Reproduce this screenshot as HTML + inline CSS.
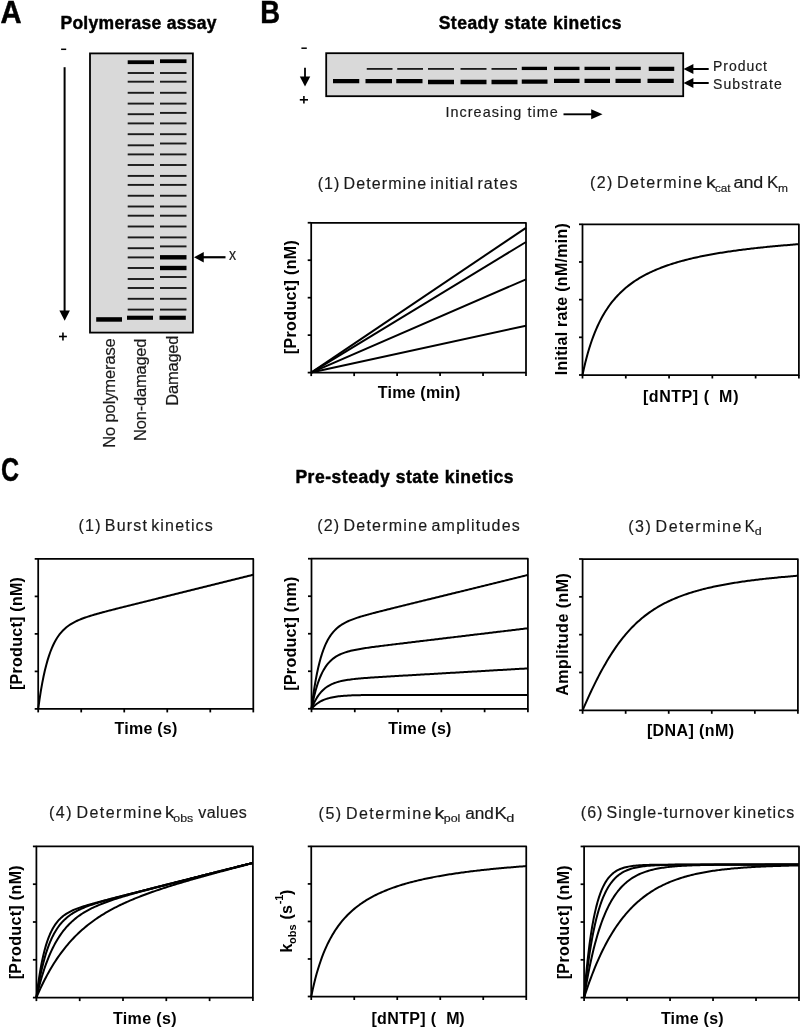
<!DOCTYPE html>
<html><head><meta charset="utf-8"><title>Polymerase kinetics figure</title>
<style>
html,body{margin:0;padding:0;background:#fff;}
body{width:800px;height:1028px;overflow:hidden;}
svg{display:block;font-family:"Liberation Sans", sans-serif;filter:blur(0.35px);}
text.r{stroke:#1a1a1a;stroke-width:0.18px;}
text.ws{word-spacing:-2.5px;}
text.big{stroke:#000;stroke-width:0.45px;}
text.ttl{stroke:#000;stroke-width:0.45px;}
</style></head>
<body>
<svg width="800" height="1028" viewBox="0 0 800 1028">
<rect x="90.00" y="53.40" width="102.90" height="279.20" fill="#d9d9d9" stroke="#000" stroke-width="1.8"/>
<rect x="96.20" y="317.20" width="25.80" height="4.50" fill="#000"/>
<rect x="127.70" y="72.05" width="26.30" height="1.90" fill="#1a1a1a"/>
<rect x="127.70" y="80.75" width="26.30" height="1.90" fill="#1a1a1a"/>
<rect x="127.70" y="91.85" width="26.30" height="1.90" fill="#1a1a1a"/>
<rect x="127.70" y="102.65" width="26.30" height="1.90" fill="#1a1a1a"/>
<rect x="127.70" y="113.25" width="26.30" height="1.90" fill="#1a1a1a"/>
<rect x="127.70" y="122.45" width="26.30" height="1.90" fill="#1a1a1a"/>
<rect x="127.70" y="133.25" width="26.30" height="1.90" fill="#1a1a1a"/>
<rect x="127.70" y="144.35" width="26.30" height="1.90" fill="#1a1a1a"/>
<rect x="127.70" y="153.45" width="26.30" height="1.90" fill="#1a1a1a"/>
<rect x="127.70" y="164.05" width="26.30" height="1.90" fill="#1a1a1a"/>
<rect x="127.70" y="174.95" width="26.30" height="1.90" fill="#1a1a1a"/>
<rect x="127.70" y="183.95" width="26.30" height="1.90" fill="#1a1a1a"/>
<rect x="127.70" y="194.80" width="26.30" height="1.90" fill="#1a1a1a"/>
<rect x="127.70" y="205.55" width="26.30" height="1.90" fill="#1a1a1a"/>
<rect x="127.70" y="214.75" width="26.30" height="1.90" fill="#1a1a1a"/>
<rect x="127.70" y="225.55" width="26.30" height="1.90" fill="#1a1a1a"/>
<rect x="127.70" y="236.45" width="26.30" height="1.90" fill="#1a1a1a"/>
<rect x="127.70" y="247.25" width="26.30" height="1.90" fill="#1a1a1a"/>
<rect x="127.70" y="256.45" width="26.30" height="1.90" fill="#1a1a1a"/>
<rect x="127.70" y="267.05" width="26.30" height="1.90" fill="#1a1a1a"/>
<rect x="127.70" y="278.05" width="26.30" height="1.90" fill="#1a1a1a"/>
<rect x="127.70" y="287.05" width="26.30" height="1.90" fill="#1a1a1a"/>
<rect x="127.70" y="297.85" width="26.30" height="1.90" fill="#1a1a1a"/>
<rect x="127.70" y="308.65" width="26.30" height="1.90" fill="#1a1a1a"/>
<rect x="160.00" y="72.05" width="26.50" height="1.90" fill="#1a1a1a"/>
<rect x="160.00" y="80.75" width="26.50" height="1.90" fill="#1a1a1a"/>
<rect x="160.00" y="91.85" width="26.50" height="1.90" fill="#1a1a1a"/>
<rect x="160.00" y="102.65" width="26.50" height="1.90" fill="#1a1a1a"/>
<rect x="160.00" y="111.95" width="26.50" height="1.90" fill="#1a1a1a"/>
<rect x="160.00" y="122.45" width="26.50" height="1.90" fill="#1a1a1a"/>
<rect x="160.00" y="133.25" width="26.50" height="1.90" fill="#1a1a1a"/>
<rect x="160.00" y="142.55" width="26.50" height="1.90" fill="#1a1a1a"/>
<rect x="160.00" y="153.45" width="26.50" height="1.90" fill="#1a1a1a"/>
<rect x="160.00" y="164.05" width="26.50" height="1.90" fill="#1a1a1a"/>
<rect x="160.00" y="174.95" width="26.50" height="1.90" fill="#1a1a1a"/>
<rect x="160.00" y="183.95" width="26.50" height="1.90" fill="#1a1a1a"/>
<rect x="160.00" y="194.80" width="26.50" height="1.90" fill="#1a1a1a"/>
<rect x="160.00" y="205.55" width="26.50" height="1.90" fill="#1a1a1a"/>
<rect x="160.00" y="214.75" width="26.50" height="1.90" fill="#1a1a1a"/>
<rect x="160.00" y="225.55" width="26.50" height="1.90" fill="#1a1a1a"/>
<rect x="160.00" y="236.45" width="26.50" height="1.90" fill="#1a1a1a"/>
<rect x="160.00" y="245.45" width="26.50" height="1.90" fill="#1a1a1a"/>
<rect x="160.00" y="276.05" width="26.50" height="1.90" fill="#1a1a1a"/>
<rect x="160.00" y="287.05" width="26.50" height="1.90" fill="#1a1a1a"/>
<rect x="160.00" y="297.85" width="26.50" height="1.90" fill="#1a1a1a"/>
<rect x="160.00" y="308.65" width="26.50" height="1.90" fill="#1a1a1a"/>
<rect x="127.70" y="60.30" width="26.30" height="3.80" fill="#000"/>
<rect x="160.00" y="59.30" width="26.50" height="3.80" fill="#000"/>
<rect x="127.00" y="315.70" width="26.00" height="4.10" fill="#000"/>
<rect x="159.50" y="315.70" width="26.30" height="4.10" fill="#000"/>
<rect x="160.00" y="255.10" width="26.50" height="4.40" fill="#000"/>
<rect x="160.00" y="265.80" width="26.50" height="4.40" fill="#000"/>
<line x1="61.10" y1="49.30" x2="66.20" y2="49.30" stroke="#000" stroke-width="1.5"/>
<line x1="64.60" y1="67.20" x2="64.60" y2="311.50" stroke="#000" stroke-width="2.0"/>
<polygon points="59.40,310.50 69.90,310.50 64.65,320.80" fill="#000"/>
<line x1="59.00" y1="336.50" x2="66.90" y2="336.50" stroke="#000" stroke-width="1.6"/>
<line x1="62.95" y1="332.60" x2="62.95" y2="340.50" stroke="#000" stroke-width="1.6"/>
<polygon points="194.00,257.25 203.75,252.00 203.75,262.50" fill="#000"/>
<line x1="203.00" y1="257.25" x2="225.50" y2="257.25" stroke="#000" stroke-width="2.2"/>
<rect x="326.20" y="53.20" width="357.00" height="43.00" fill="#d9d9d9" stroke="#000" stroke-width="1.8"/>
<rect x="333.00" y="79.00" width="26.25" height="4.25" fill="#000"/>
<rect x="365.50" y="79.00" width="26.50" height="4.25" fill="#000"/>
<rect x="396.25" y="79.00" width="26.25" height="4.25" fill="#000"/>
<rect x="428.00" y="79.75" width="26.00" height="4.50" fill="#000"/>
<rect x="460.50" y="79.75" width="26.00" height="4.50" fill="#000"/>
<rect x="491.50" y="79.75" width="26.00" height="4.50" fill="#000"/>
<rect x="521.75" y="79.50" width="25.75" height="4.25" fill="#000"/>
<rect x="554.00" y="78.75" width="25.50" height="4.25" fill="#000"/>
<rect x="584.50" y="78.75" width="25.50" height="4.25" fill="#000"/>
<rect x="615.50" y="78.75" width="25.25" height="4.25" fill="#000"/>
<rect x="647.50" y="78.75" width="26.25" height="4.25" fill="#000"/>
<rect x="366.75" y="68.00" width="25.75" height="1.80" fill="#1a1a1a"/>
<rect x="397.25" y="68.00" width="25.75" height="1.80" fill="#1a1a1a"/>
<rect x="428.00" y="68.00" width="26.00" height="1.80" fill="#1a1a1a"/>
<rect x="460.50" y="68.00" width="26.00" height="1.80" fill="#1a1a1a"/>
<rect x="491.50" y="68.00" width="25.50" height="1.80" fill="#1a1a1a"/>
<rect x="521.75" y="66.75" width="25.25" height="3.30" fill="#000"/>
<rect x="554.00" y="66.75" width="25.50" height="3.30" fill="#000"/>
<rect x="584.50" y="66.75" width="25.50" height="3.30" fill="#000"/>
<rect x="615.50" y="66.75" width="25.25" height="3.30" fill="#000"/>
<rect x="648.75" y="66.75" width="25.50" height="4.20" fill="#000"/>
<line x1="301.40" y1="48.20" x2="306.80" y2="48.20" stroke="#000" stroke-width="1.5"/>
<line x1="305.00" y1="67.85" x2="305.00" y2="77.00" stroke="#000" stroke-width="1.8"/>
<polygon points="299.80,76.40 310.25,76.40 305.00,86.50" fill="#000"/>
<line x1="299.80" y1="99.80" x2="308.00" y2="99.80" stroke="#000" stroke-width="1.6"/>
<line x1="303.90" y1="96.00" x2="303.90" y2="103.60" stroke="#000" stroke-width="1.6"/>
<polygon points="683.50,69.00 693.40,64.10 693.40,73.90" fill="#000"/>
<line x1="692.50" y1="69.00" x2="708.70" y2="69.00" stroke="#000" stroke-width="2.0"/>
<polygon points="683.50,83.00 693.40,78.10 693.40,87.90" fill="#000"/>
<line x1="692.50" y1="83.00" x2="708.70" y2="83.00" stroke="#000" stroke-width="2.0"/>
<line x1="563.50" y1="114.30" x2="593.00" y2="114.30" stroke="#000" stroke-width="1.9"/>
<polygon points="591.20,109.30 602.50,114.30 591.20,119.30" fill="#000"/>
<rect x="311.20" y="222.75" width="214.80" height="149.85" fill="none" stroke="#000" stroke-width="1.75" stroke-linejoin="round"/>
<line x1="307.70" y1="222.75" x2="311.20" y2="222.75" stroke="#000" stroke-width="1.75"/>
<line x1="307.70" y1="260.21" x2="311.20" y2="260.21" stroke="#000" stroke-width="1.75"/>
<line x1="307.70" y1="297.68" x2="311.20" y2="297.68" stroke="#000" stroke-width="1.75"/>
<line x1="307.70" y1="335.14" x2="311.20" y2="335.14" stroke="#000" stroke-width="1.75"/>
<line x1="307.70" y1="372.60" x2="311.20" y2="372.60" stroke="#000" stroke-width="1.75"/>
<line x1="311.20" y1="372.60" x2="311.20" y2="376.10" stroke="#000" stroke-width="1.75"/>
<line x1="354.16" y1="372.60" x2="354.16" y2="376.10" stroke="#000" stroke-width="1.75"/>
<line x1="397.12" y1="372.60" x2="397.12" y2="376.10" stroke="#000" stroke-width="1.75"/>
<line x1="440.08" y1="372.60" x2="440.08" y2="376.10" stroke="#000" stroke-width="1.75"/>
<line x1="483.04" y1="372.60" x2="483.04" y2="376.10" stroke="#000" stroke-width="1.75"/>
<line x1="526.00" y1="372.60" x2="526.00" y2="376.10" stroke="#000" stroke-width="1.75"/>
<line x1="311.20" y1="372.60" x2="526.00" y2="227.80" stroke="#000" stroke-width="2.0"/>
<line x1="311.20" y1="372.60" x2="526.00" y2="242.00" stroke="#000" stroke-width="2.0"/>
<line x1="311.20" y1="372.60" x2="526.00" y2="279.30" stroke="#000" stroke-width="2.0"/>
<line x1="311.20" y1="372.60" x2="526.00" y2="325.70" stroke="#000" stroke-width="2.0"/>
<rect x="582.50" y="224.30" width="216.40" height="150.70" fill="none" stroke="#000" stroke-width="1.75" stroke-linejoin="round"/>
<line x1="579.00" y1="224.30" x2="582.50" y2="224.30" stroke="#000" stroke-width="1.75"/>
<line x1="579.00" y1="261.98" x2="582.50" y2="261.98" stroke="#000" stroke-width="1.75"/>
<line x1="579.00" y1="299.65" x2="582.50" y2="299.65" stroke="#000" stroke-width="1.75"/>
<line x1="579.00" y1="337.32" x2="582.50" y2="337.32" stroke="#000" stroke-width="1.75"/>
<line x1="579.00" y1="375.00" x2="582.50" y2="375.00" stroke="#000" stroke-width="1.75"/>
<line x1="582.50" y1="375.00" x2="582.50" y2="378.50" stroke="#000" stroke-width="1.75"/>
<line x1="625.78" y1="375.00" x2="625.78" y2="378.50" stroke="#000" stroke-width="1.75"/>
<line x1="669.06" y1="375.00" x2="669.06" y2="378.50" stroke="#000" stroke-width="1.75"/>
<line x1="712.34" y1="375.00" x2="712.34" y2="378.50" stroke="#000" stroke-width="1.75"/>
<line x1="755.62" y1="375.00" x2="755.62" y2="378.50" stroke="#000" stroke-width="1.75"/>
<line x1="798.90" y1="375.00" x2="798.90" y2="378.50" stroke="#000" stroke-width="1.75"/>
<path d="M582.50,375.00 L583.85,368.74 L585.21,362.99 L586.56,357.68 L587.91,352.77 L589.26,348.21 L590.62,343.96 L591.97,340.00 L593.32,336.29 L594.67,332.82 L596.02,329.55 L597.38,326.48 L598.73,323.59 L600.08,320.85 L601.43,318.27 L602.79,315.82 L604.14,313.50 L605.49,311.29 L606.85,309.19 L608.20,307.19 L609.55,305.29 L610.90,303.47 L612.25,301.73 L613.61,300.07 L614.96,298.48 L616.31,296.95 L617.66,295.49 L619.02,294.09 L620.37,292.74 L621.72,291.44 L623.08,290.19 L624.43,288.99 L625.78,287.83 L627.13,286.72 L628.49,285.64 L629.84,284.60 L631.19,283.60 L632.54,282.63 L633.89,281.69 L635.25,280.78 L636.60,279.90 L637.95,279.05 L639.30,278.22 L640.66,277.42 L642.01,276.64 L643.36,275.89 L644.72,275.15 L646.07,274.44 L647.42,273.75 L648.77,273.08 L650.12,272.43 L651.48,271.79 L652.83,271.17 L654.18,270.57 L655.53,269.98 L656.89,269.41 L658.24,268.85 L659.59,268.31 L660.94,267.78 L662.30,267.26 L663.65,266.76 L665.00,266.26 L666.36,265.78 L667.71,265.31 L669.06,264.85 L670.41,264.41 L671.76,263.97 L673.12,263.54 L674.47,263.12 L675.82,262.71 L677.17,262.31 L678.53,261.91 L679.88,261.53 L681.23,261.15 L682.59,260.79 L683.94,260.42 L685.29,260.07 L686.64,259.72 L688.00,259.38 L689.35,259.05 L690.70,258.72 L692.05,258.40 L693.40,258.09 L694.76,257.78 L696.11,257.48 L697.46,257.18 L698.81,256.89 L700.17,256.60 L701.52,256.32 L702.87,256.05 L704.23,255.77 L705.58,255.51 L706.93,255.25 L708.28,254.99 L709.63,254.74 L710.99,254.49 L712.34,254.24 L713.69,254.00 L715.04,253.77 L716.40,253.53 L717.75,253.30 L719.10,253.08 L720.45,252.86 L721.81,252.64 L723.16,252.43 L724.51,252.21 L725.87,252.01 L727.22,251.80 L728.57,251.60 L729.92,251.40 L731.27,251.21 L732.63,251.01 L733.98,250.82 L735.33,250.64 L736.68,250.45 L738.04,250.27 L739.39,250.09 L740.74,249.92 L742.10,249.74 L743.45,249.57 L744.80,249.40 L746.15,249.24 L747.50,249.07 L748.86,248.91 L750.21,248.75 L751.56,248.59 L752.91,248.44 L754.27,248.28 L755.62,248.13 L756.97,247.98 L758.33,247.83 L759.68,247.69 L761.03,247.54 L762.38,247.40 L763.74,247.26 L765.09,247.12 L766.44,246.99 L767.79,246.85 L769.14,246.72 L770.50,246.59 L771.85,246.46 L773.20,246.33 L774.55,246.20 L775.91,246.08 L777.26,245.95 L778.61,245.83 L779.96,245.71 L781.32,245.59 L782.67,245.47 L784.02,245.36 L785.38,245.24 L786.73,245.13 L788.08,245.01 L789.43,244.90 L790.78,244.79 L792.14,244.68 L793.49,244.58 L794.84,244.47 L796.19,244.36 L797.55,244.26 L798.90,244.16" fill="none" stroke="#000" stroke-width="2.0" stroke-linejoin="round"/>
<rect x="38.20" y="558.90" width="215.10" height="150.00" fill="none" stroke="#000" stroke-width="1.75" stroke-linejoin="round"/>
<line x1="34.70" y1="558.90" x2="38.20" y2="558.90" stroke="#000" stroke-width="1.75"/>
<line x1="34.70" y1="596.40" x2="38.20" y2="596.40" stroke="#000" stroke-width="1.75"/>
<line x1="34.70" y1="633.90" x2="38.20" y2="633.90" stroke="#000" stroke-width="1.75"/>
<line x1="34.70" y1="671.40" x2="38.20" y2="671.40" stroke="#000" stroke-width="1.75"/>
<line x1="34.70" y1="708.90" x2="38.20" y2="708.90" stroke="#000" stroke-width="1.75"/>
<line x1="38.20" y1="708.90" x2="38.20" y2="712.40" stroke="#000" stroke-width="1.75"/>
<line x1="81.22" y1="708.90" x2="81.22" y2="712.40" stroke="#000" stroke-width="1.75"/>
<line x1="124.24" y1="708.90" x2="124.24" y2="712.40" stroke="#000" stroke-width="1.75"/>
<line x1="167.26" y1="708.90" x2="167.26" y2="712.40" stroke="#000" stroke-width="1.75"/>
<line x1="210.28" y1="708.90" x2="210.28" y2="712.40" stroke="#000" stroke-width="1.75"/>
<line x1="253.30" y1="708.90" x2="253.30" y2="712.40" stroke="#000" stroke-width="1.75"/>
<path d="M38.20,708.90 L39.54,699.27 L40.89,690.71 L42.23,683.10 L43.58,676.32 L44.92,670.29 L46.27,664.91 L47.61,660.11 L48.96,655.83 L50.30,652.00 L51.64,648.57 L52.99,645.50 L54.33,642.74 L55.68,640.26 L57.02,638.03 L58.37,636.02 L59.71,634.20 L61.05,632.55 L62.40,631.05 L63.74,629.69 L65.09,628.44 L66.43,627.30 L67.78,626.26 L69.12,625.29 L70.47,624.40 L71.81,623.57 L73.15,622.80 L74.50,622.08 L75.84,621.40 L77.19,620.77 L78.53,620.16 L79.88,619.59 L81.22,619.05 L82.56,618.53 L83.91,618.03 L85.25,617.55 L86.60,617.09 L87.94,616.64 L89.29,616.21 L90.63,615.78 L91.97,615.37 L93.32,614.97 L94.66,614.57 L96.01,614.19 L97.35,613.80 L98.70,613.43 L100.04,613.06 L101.39,612.69 L102.73,612.33 L104.07,611.97 L105.42,611.61 L106.76,611.25 L108.11,610.90 L109.45,610.55 L110.80,610.21 L112.14,609.86 L113.49,609.52 L114.83,609.17 L116.17,608.83 L117.52,608.49 L118.86,608.15 L120.21,607.81 L121.55,607.47 L122.90,607.13 L124.24,606.79 L125.58,606.46 L126.93,606.12 L128.27,605.78 L129.62,605.45 L130.96,605.11 L132.31,604.78 L133.65,604.44 L135.00,604.11 L136.34,603.77 L137.68,603.44 L139.03,603.10 L140.37,602.77 L141.72,602.43 L143.06,602.10 L144.41,601.77 L145.75,601.43 L147.09,601.10 L148.44,600.76 L149.78,600.43 L151.13,600.10 L152.47,599.76 L153.82,599.43 L155.16,599.10 L156.51,598.76 L157.85,598.43 L159.19,598.09 L160.54,597.76 L161.88,597.43 L163.23,597.09 L164.57,596.76 L165.92,596.43 L167.26,596.09 L168.60,595.76 L169.95,595.43 L171.29,595.09 L172.64,594.76 L173.98,594.43 L175.33,594.09 L176.67,593.76 L178.01,593.43 L179.36,593.09 L180.70,592.76 L182.05,592.43 L183.39,592.09 L184.74,591.76 L186.08,591.43 L187.43,591.09 L188.77,590.76 L190.11,590.43 L191.46,590.09 L192.80,589.76 L194.15,589.43 L195.49,589.09 L196.84,588.76 L198.18,588.42 L199.53,588.09 L200.87,587.76 L202.21,587.42 L203.56,587.09 L204.90,586.76 L206.25,586.42 L207.59,586.09 L208.94,585.76 L210.28,585.42 L211.62,585.09 L212.97,584.76 L214.31,584.42 L215.66,584.09 L217.00,583.76 L218.35,583.42 L219.69,583.09 L221.04,582.76 L222.38,582.42 L223.72,582.09 L225.07,581.76 L226.41,581.42 L227.76,581.09 L229.10,580.76 L230.45,580.42 L231.79,580.09 L233.13,579.76 L234.48,579.42 L235.82,579.09 L237.17,578.76 L238.51,578.42 L239.86,578.09 L241.20,577.76 L242.55,577.42 L243.89,577.09 L245.23,576.76 L246.58,576.42 L247.92,576.09 L249.27,575.76 L250.61,575.42 L251.96,575.09 L253.30,574.76" fill="none" stroke="#000" stroke-width="2.0" stroke-linejoin="round"/>
<rect x="311.50" y="558.70" width="216.40" height="150.05" fill="none" stroke="#000" stroke-width="1.75" stroke-linejoin="round"/>
<line x1="308.00" y1="558.70" x2="311.50" y2="558.70" stroke="#000" stroke-width="1.75"/>
<line x1="308.00" y1="596.21" x2="311.50" y2="596.21" stroke="#000" stroke-width="1.75"/>
<line x1="308.00" y1="633.73" x2="311.50" y2="633.73" stroke="#000" stroke-width="1.75"/>
<line x1="308.00" y1="671.24" x2="311.50" y2="671.24" stroke="#000" stroke-width="1.75"/>
<line x1="308.00" y1="708.75" x2="311.50" y2="708.75" stroke="#000" stroke-width="1.75"/>
<line x1="311.50" y1="708.75" x2="311.50" y2="712.25" stroke="#000" stroke-width="1.75"/>
<line x1="354.78" y1="708.75" x2="354.78" y2="712.25" stroke="#000" stroke-width="1.75"/>
<line x1="398.06" y1="708.75" x2="398.06" y2="712.25" stroke="#000" stroke-width="1.75"/>
<line x1="441.34" y1="708.75" x2="441.34" y2="712.25" stroke="#000" stroke-width="1.75"/>
<line x1="484.62" y1="708.75" x2="484.62" y2="712.25" stroke="#000" stroke-width="1.75"/>
<line x1="527.90" y1="708.75" x2="527.90" y2="712.25" stroke="#000" stroke-width="1.75"/>
<path d="M311.50,708.75 L312.85,698.22 L314.20,688.98 L315.56,680.87 L316.91,673.74 L318.26,667.48 L319.62,661.96 L320.97,657.10 L322.32,652.81 L323.67,649.02 L325.02,645.67 L326.38,642.70 L327.73,640.07 L329.08,637.72 L330.44,635.63 L331.79,633.76 L333.14,632.09 L334.49,630.59 L335.85,629.23 L337.20,628.01 L338.55,626.89 L339.90,625.88 L341.25,624.95 L342.61,624.10 L343.96,623.31 L345.31,622.58 L346.67,621.90 L348.02,621.27 L349.37,620.67 L350.72,620.11 L352.07,619.57 L353.43,619.07 L354.78,618.58 L356.13,618.11 L357.49,617.66 L358.84,617.23 L360.19,616.81 L361.54,616.40 L362.89,615.99 L364.25,615.60 L365.60,615.22 L366.95,614.84 L368.31,614.47 L369.66,614.10 L371.01,613.74 L372.36,613.38 L373.71,613.02 L375.07,612.67 L376.42,612.32 L377.77,611.97 L379.12,611.63 L380.48,611.28 L381.83,610.94 L383.18,610.60 L384.53,610.26 L385.89,609.92 L387.24,609.58 L388.59,609.24 L389.94,608.91 L391.30,608.57 L392.65,608.24 L394.00,607.90 L395.36,607.57 L396.71,607.23 L398.06,606.90 L399.41,606.56 L400.76,606.23 L402.12,605.89 L403.47,605.56 L404.82,605.23 L406.17,604.89 L407.53,604.56 L408.88,604.23 L410.23,603.90 L411.58,603.56 L412.94,603.23 L414.29,602.90 L415.64,602.56 L417.00,602.23 L418.35,601.90 L419.70,601.57 L421.05,601.23 L422.40,600.90 L423.76,600.57 L425.11,600.24 L426.46,599.90 L427.81,599.57 L429.17,599.24 L430.52,598.91 L431.87,598.57 L433.22,598.24 L434.58,597.91 L435.93,597.58 L437.28,597.25 L438.63,596.91 L439.99,596.58 L441.34,596.25 L442.69,595.92 L444.04,595.58 L445.40,595.25 L446.75,594.92 L448.10,594.59 L449.45,594.25 L450.81,593.92 L452.16,593.59 L453.51,593.26 L454.87,592.93 L456.22,592.59 L457.57,592.26 L458.92,591.93 L460.27,591.60 L461.63,591.26 L462.98,590.93 L464.33,590.60 L465.69,590.27 L467.04,589.93 L468.39,589.60 L469.74,589.27 L471.09,588.94 L472.45,588.61 L473.80,588.27 L475.15,587.94 L476.50,587.61 L477.86,587.28 L479.21,586.94 L480.56,586.61 L481.91,586.28 L483.27,585.95 L484.62,585.61 L485.97,585.28 L487.32,584.95 L488.68,584.62 L490.03,584.29 L491.38,583.95 L492.74,583.62 L494.09,583.29 L495.44,582.96 L496.79,582.62 L498.14,582.29 L499.50,581.96 L500.85,581.63 L502.20,581.29 L503.55,580.96 L504.91,580.63 L506.26,580.30 L507.61,579.97 L508.96,579.63 L510.32,579.30 L511.67,578.97 L513.02,578.64 L514.38,578.30 L515.73,577.97 L517.08,577.64 L518.43,577.31 L519.78,576.97 L521.14,576.64 L522.49,576.31 L523.84,575.98 L525.19,575.65 L526.55,575.31 L527.90,574.98" fill="none" stroke="#000" stroke-width="2.0" stroke-linejoin="round"/>
<path d="M311.50,708.75 L312.85,702.00 L314.20,696.05 L315.56,690.79 L316.91,686.16 L318.26,682.06 L319.62,678.44 L320.97,675.24 L322.32,672.40 L323.67,669.89 L325.02,667.66 L326.38,665.68 L327.73,663.92 L329.08,662.35 L330.44,660.96 L331.79,659.71 L333.14,658.59 L334.49,657.59 L335.85,656.69 L337.20,655.88 L338.55,655.15 L339.90,654.49 L341.25,653.88 L342.61,653.33 L343.96,652.83 L345.31,652.37 L346.67,651.94 L348.02,651.55 L349.37,651.18 L350.72,650.84 L352.07,650.52 L353.43,650.22 L354.78,649.94 L356.13,649.67 L357.49,649.41 L358.84,649.17 L360.19,648.94 L361.54,648.71 L362.89,648.49 L364.25,648.28 L365.60,648.07 L366.95,647.87 L368.31,647.68 L369.66,647.49 L371.01,647.30 L372.36,647.11 L373.71,646.93 L375.07,646.75 L376.42,646.57 L377.77,646.40 L379.12,646.22 L380.48,646.05 L381.83,645.88 L383.18,645.71 L384.53,645.54 L385.89,645.37 L387.24,645.20 L388.59,645.03 L389.94,644.87 L391.30,644.70 L392.65,644.54 L394.00,644.37 L395.36,644.21 L396.71,644.04 L398.06,643.88 L399.41,643.71 L400.76,643.55 L402.12,643.39 L403.47,643.22 L404.82,643.06 L406.17,642.90 L407.53,642.73 L408.88,642.57 L410.23,642.41 L411.58,642.24 L412.94,642.08 L414.29,641.92 L415.64,641.76 L417.00,641.59 L418.35,641.43 L419.70,641.27 L421.05,641.11 L422.40,640.94 L423.76,640.78 L425.11,640.62 L426.46,640.46 L427.81,640.29 L429.17,640.13 L430.52,639.97 L431.87,639.81 L433.22,639.64 L434.58,639.48 L435.93,639.32 L437.28,639.16 L438.63,638.99 L439.99,638.83 L441.34,638.67 L442.69,638.51 L444.04,638.34 L445.40,638.18 L446.75,638.02 L448.10,637.86 L449.45,637.70 L450.81,637.53 L452.16,637.37 L453.51,637.21 L454.87,637.05 L456.22,636.88 L457.57,636.72 L458.92,636.56 L460.27,636.40 L461.63,636.23 L462.98,636.07 L464.33,635.91 L465.69,635.75 L467.04,635.59 L468.39,635.42 L469.74,635.26 L471.09,635.10 L472.45,634.94 L473.80,634.77 L475.15,634.61 L476.50,634.45 L477.86,634.29 L479.21,634.12 L480.56,633.96 L481.91,633.80 L483.27,633.64 L484.62,633.48 L485.97,633.31 L487.32,633.15 L488.68,632.99 L490.03,632.83 L491.38,632.66 L492.74,632.50 L494.09,632.34 L495.44,632.18 L496.79,632.01 L498.14,631.85 L499.50,631.69 L500.85,631.53 L502.20,631.37 L503.55,631.20 L504.91,631.04 L506.26,630.88 L507.61,630.72 L508.96,630.55 L510.32,630.39 L511.67,630.23 L513.02,630.07 L514.38,629.91 L515.73,629.74 L517.08,629.58 L518.43,629.42 L519.78,629.26 L521.14,629.09 L522.49,628.93 L523.84,628.77 L525.19,628.61 L526.55,628.44 L527.90,628.28" fill="none" stroke="#000" stroke-width="2.0" stroke-linejoin="round"/>
<path d="M311.50,708.75 L312.85,705.46 L314.20,702.53 L315.56,699.94 L316.91,697.64 L318.26,695.59 L319.62,693.77 L320.97,692.16 L322.32,690.72 L323.67,689.44 L325.02,688.29 L326.38,687.28 L327.73,686.37 L329.08,685.55 L330.44,684.82 L331.79,684.17 L333.14,683.58 L334.49,683.05 L335.85,682.58 L337.20,682.15 L338.55,681.76 L339.90,681.40 L341.25,681.08 L342.61,680.79 L343.96,680.52 L345.31,680.27 L346.67,680.05 L348.02,679.84 L349.37,679.64 L350.72,679.46 L352.07,679.29 L353.43,679.13 L354.78,678.98 L356.13,678.84 L357.49,678.71 L358.84,678.58 L360.19,678.46 L361.54,678.34 L362.89,678.23 L364.25,678.12 L365.60,678.02 L366.95,677.91 L368.31,677.81 L369.66,677.72 L371.01,677.62 L372.36,677.53 L373.71,677.44 L375.07,677.35 L376.42,677.26 L377.77,677.17 L379.12,677.09 L380.48,677.00 L381.83,676.92 L383.18,676.83 L384.53,676.75 L385.89,676.67 L387.24,676.59 L388.59,676.50 L389.94,676.42 L391.30,676.34 L392.65,676.26 L394.00,676.18 L395.36,676.10 L396.71,676.02 L398.06,675.94 L399.41,675.86 L400.76,675.78 L402.12,675.70 L403.47,675.62 L404.82,675.54 L406.17,675.46 L407.53,675.38 L408.88,675.31 L410.23,675.23 L411.58,675.15 L412.94,675.07 L414.29,674.99 L415.64,674.91 L417.00,674.83 L418.35,674.75 L419.70,674.68 L421.05,674.60 L422.40,674.52 L423.76,674.44 L425.11,674.36 L426.46,674.28 L427.81,674.20 L429.17,674.13 L430.52,674.05 L431.87,673.97 L433.22,673.89 L434.58,673.81 L435.93,673.73 L437.28,673.65 L438.63,673.58 L439.99,673.50 L441.34,673.42 L442.69,673.34 L444.04,673.26 L445.40,673.18 L446.75,673.11 L448.10,673.03 L449.45,672.95 L450.81,672.87 L452.16,672.79 L453.51,672.71 L454.87,672.63 L456.22,672.56 L457.57,672.48 L458.92,672.40 L460.27,672.32 L461.63,672.24 L462.98,672.16 L464.33,672.09 L465.69,672.01 L467.04,671.93 L468.39,671.85 L469.74,671.77 L471.09,671.69 L472.45,671.62 L473.80,671.54 L475.15,671.46 L476.50,671.38 L477.86,671.30 L479.21,671.22 L480.56,671.14 L481.91,671.07 L483.27,670.99 L484.62,670.91 L485.97,670.83 L487.32,670.75 L488.68,670.67 L490.03,670.60 L491.38,670.52 L492.74,670.44 L494.09,670.36 L495.44,670.28 L496.79,670.20 L498.14,670.12 L499.50,670.05 L500.85,669.97 L502.20,669.89 L503.55,669.81 L504.91,669.73 L506.26,669.65 L507.61,669.58 L508.96,669.50 L510.32,669.42 L511.67,669.34 L513.02,669.26 L514.38,669.18 L515.73,669.10 L517.08,669.03 L518.43,668.95 L519.78,668.87 L521.14,668.79 L522.49,668.71 L523.84,668.63 L525.19,668.56 L526.55,668.48 L527.90,668.40" fill="none" stroke="#000" stroke-width="2.0" stroke-linejoin="round"/>
<path d="M311.50,708.75 L312.85,707.27 L314.20,705.95 L315.56,704.78 L316.91,703.72 L318.26,702.78 L319.62,701.94 L320.97,701.19 L322.32,700.52 L323.67,699.92 L325.02,699.39 L326.38,698.91 L327.73,698.48 L329.08,698.10 L330.44,697.76 L331.79,697.45 L333.14,697.18 L334.49,696.94 L335.85,696.72 L337.20,696.53 L338.55,696.35 L339.90,696.20 L341.25,696.06 L342.61,695.94 L343.96,695.83 L345.31,695.73 L346.67,695.64 L348.02,695.56 L349.37,695.49 L350.72,695.43 L352.07,695.37 L353.43,695.32 L354.78,695.28 L356.13,695.24 L357.49,695.20 L358.84,695.17 L360.19,695.14 L361.54,695.11 L362.89,695.09 L364.25,695.07 L365.60,695.05 L366.95,695.04 L368.31,695.02 L369.66,695.01 L371.01,695.00 L372.36,694.99 L373.71,694.98 L375.07,694.97 L376.42,694.96 L377.77,694.96 L379.12,694.95 L380.48,694.94 L381.83,694.94 L383.18,694.94 L384.53,694.93 L385.89,694.93 L387.24,694.93 L388.59,694.92 L389.94,694.92 L391.30,694.92 L392.65,694.92 L394.00,694.91 L395.36,694.91 L396.71,694.91 L398.06,694.91 L399.41,694.91 L400.76,694.91 L402.12,694.91 L403.47,694.91 L404.82,694.91 L406.17,694.91 L407.53,694.90 L408.88,694.90 L410.23,694.90 L411.58,694.90 L412.94,694.90 L414.29,694.90 L415.64,694.90 L417.00,694.90 L418.35,694.90 L419.70,694.90 L421.05,694.90 L422.40,694.90 L423.76,694.90 L425.11,694.90 L426.46,694.90 L427.81,694.90 L429.17,694.90 L430.52,694.90 L431.87,694.90 L433.22,694.90 L434.58,694.90 L435.93,694.90 L437.28,694.90 L438.63,694.90 L439.99,694.90 L441.34,694.90 L442.69,694.90 L444.04,694.90 L445.40,694.90 L446.75,694.90 L448.10,694.90 L449.45,694.90 L450.81,694.90 L452.16,694.90 L453.51,694.90 L454.87,694.90 L456.22,694.90 L457.57,694.90 L458.92,694.90 L460.27,694.90 L461.63,694.90 L462.98,694.90 L464.33,694.90 L465.69,694.90 L467.04,694.90 L468.39,694.90 L469.74,694.90 L471.09,694.90 L472.45,694.90 L473.80,694.90 L475.15,694.90 L476.50,694.90 L477.86,694.90 L479.21,694.90 L480.56,694.90 L481.91,694.90 L483.27,694.90 L484.62,694.90 L485.97,694.90 L487.32,694.90 L488.68,694.90 L490.03,694.90 L491.38,694.90 L492.74,694.90 L494.09,694.90 L495.44,694.90 L496.79,694.90 L498.14,694.90 L499.50,694.90 L500.85,694.90 L502.20,694.90 L503.55,694.90 L504.91,694.90 L506.26,694.90 L507.61,694.90 L508.96,694.90 L510.32,694.90 L511.67,694.90 L513.02,694.90 L514.38,694.90 L515.73,694.90 L517.08,694.90 L518.43,694.90 L519.78,694.90 L521.14,694.90 L522.49,694.90 L523.84,694.90 L525.19,694.90 L526.55,694.90 L527.90,694.90" fill="none" stroke="#000" stroke-width="2.0" stroke-linejoin="round"/>
<rect x="582.60" y="559.00" width="215.30" height="151.30" fill="none" stroke="#000" stroke-width="1.75" stroke-linejoin="round"/>
<line x1="579.10" y1="559.00" x2="582.60" y2="559.00" stroke="#000" stroke-width="1.75"/>
<line x1="579.10" y1="596.83" x2="582.60" y2="596.83" stroke="#000" stroke-width="1.75"/>
<line x1="579.10" y1="634.65" x2="582.60" y2="634.65" stroke="#000" stroke-width="1.75"/>
<line x1="579.10" y1="672.47" x2="582.60" y2="672.47" stroke="#000" stroke-width="1.75"/>
<line x1="579.10" y1="710.30" x2="582.60" y2="710.30" stroke="#000" stroke-width="1.75"/>
<line x1="582.60" y1="710.30" x2="582.60" y2="713.80" stroke="#000" stroke-width="1.75"/>
<line x1="625.66" y1="710.30" x2="625.66" y2="713.80" stroke="#000" stroke-width="1.75"/>
<line x1="668.72" y1="710.30" x2="668.72" y2="713.80" stroke="#000" stroke-width="1.75"/>
<line x1="711.78" y1="710.30" x2="711.78" y2="713.80" stroke="#000" stroke-width="1.75"/>
<line x1="754.84" y1="710.30" x2="754.84" y2="713.80" stroke="#000" stroke-width="1.75"/>
<line x1="797.90" y1="710.30" x2="797.90" y2="713.80" stroke="#000" stroke-width="1.75"/>
<path d="M582.60,710.30 L583.95,707.18 L585.29,704.11 L586.64,701.08 L587.98,698.09 L589.33,695.15 L590.67,692.25 L592.02,689.41 L593.37,686.60 L594.71,683.85 L596.06,681.15 L597.40,678.49 L598.75,675.89 L600.09,673.33 L601.44,670.83 L602.78,668.38 L604.13,665.98 L605.48,663.63 L606.82,661.33 L608.17,659.08 L609.51,656.89 L610.86,654.75 L612.20,652.65 L613.55,650.61 L614.89,648.62 L616.24,646.68 L617.59,644.79 L618.93,642.95 L620.28,641.15 L621.62,639.40 L622.97,637.70 L624.31,636.05 L625.66,634.44 L627.01,632.88 L628.35,631.36 L629.70,629.88 L631.04,628.44 L632.39,627.04 L633.73,625.69 L635.08,624.37 L636.42,623.09 L637.77,621.85 L639.12,620.64 L640.46,619.47 L641.81,618.33 L643.15,617.22 L644.50,616.14 L645.84,615.10 L647.19,614.09 L648.54,613.10 L649.88,612.14 L651.23,611.21 L652.57,610.31 L653.92,609.43 L655.26,608.58 L656.61,607.75 L657.96,606.94 L659.30,606.16 L660.65,605.40 L661.99,604.66 L663.34,603.93 L664.68,603.23 L666.03,602.55 L667.37,601.89 L668.72,601.24 L670.07,600.61 L671.41,599.99 L672.76,599.40 L674.10,598.82 L675.45,598.25 L676.79,597.70 L678.14,597.16 L679.49,596.63 L680.83,596.12 L682.18,595.62 L683.52,595.13 L684.87,594.66 L686.21,594.19 L687.56,593.74 L688.90,593.30 L690.25,592.87 L691.60,592.45 L692.94,592.04 L694.29,591.63 L695.63,591.24 L696.98,590.86 L698.32,590.48 L699.67,590.11 L701.01,589.75 L702.36,589.40 L703.71,589.06 L705.05,588.72 L706.40,588.39 L707.74,588.07 L709.09,587.76 L710.43,587.45 L711.78,587.15 L713.13,586.85 L714.47,586.56 L715.82,586.28 L717.16,586.00 L718.51,585.72 L719.85,585.46 L721.20,585.19 L722.55,584.94 L723.89,584.68 L725.24,584.44 L726.58,584.19 L727.93,583.96 L729.27,583.72 L730.62,583.49 L731.96,583.27 L733.31,583.05 L734.66,582.83 L736.00,582.62 L737.35,582.41 L738.69,582.20 L740.04,582.00 L741.38,581.80 L742.73,581.60 L744.08,581.41 L745.42,581.22 L746.77,581.04 L748.11,580.86 L749.46,580.68 L750.80,580.50 L752.15,580.33 L753.49,580.16 L754.84,579.99 L756.19,579.82 L757.53,579.66 L758.88,579.50 L760.22,579.34 L761.57,579.19 L762.91,579.03 L764.26,578.88 L765.61,578.74 L766.95,578.59 L768.30,578.45 L769.64,578.31 L770.99,578.17 L772.33,578.03 L773.68,577.89 L775.02,577.76 L776.37,577.63 L777.72,577.50 L779.06,577.37 L780.41,577.25 L781.75,577.12 L783.10,577.00 L784.44,576.88 L785.79,576.76 L787.13,576.64 L788.48,576.53 L789.83,576.41 L791.17,576.30 L792.52,576.19 L793.86,576.08 L795.21,575.97 L796.55,575.87 L797.90,575.76" fill="none" stroke="#000" stroke-width="2.0" stroke-linejoin="round"/>
<rect x="36.40" y="846.40" width="216.50" height="151.20" fill="none" stroke="#000" stroke-width="1.75" stroke-linejoin="round"/>
<line x1="32.90" y1="846.40" x2="36.40" y2="846.40" stroke="#000" stroke-width="1.75"/>
<line x1="32.90" y1="884.20" x2="36.40" y2="884.20" stroke="#000" stroke-width="1.75"/>
<line x1="32.90" y1="922.00" x2="36.40" y2="922.00" stroke="#000" stroke-width="1.75"/>
<line x1="32.90" y1="959.80" x2="36.40" y2="959.80" stroke="#000" stroke-width="1.75"/>
<line x1="32.90" y1="997.60" x2="36.40" y2="997.60" stroke="#000" stroke-width="1.75"/>
<line x1="36.40" y1="997.60" x2="36.40" y2="1001.10" stroke="#000" stroke-width="1.75"/>
<line x1="79.70" y1="997.60" x2="79.70" y2="1001.10" stroke="#000" stroke-width="1.75"/>
<line x1="123.00" y1="997.60" x2="123.00" y2="1001.10" stroke="#000" stroke-width="1.75"/>
<line x1="166.30" y1="997.60" x2="166.30" y2="1001.10" stroke="#000" stroke-width="1.75"/>
<line x1="209.60" y1="997.60" x2="209.60" y2="1001.10" stroke="#000" stroke-width="1.75"/>
<line x1="252.90" y1="997.60" x2="252.90" y2="1001.10" stroke="#000" stroke-width="1.75"/>
<path d="M36.40,997.60 L37.75,986.94 L39.11,977.61 L40.46,969.44 L41.81,962.28 L43.17,956.00 L44.52,950.48 L45.87,945.64 L47.22,941.37 L48.58,937.61 L49.93,934.29 L51.28,931.35 L52.64,928.75 L53.99,926.44 L55.34,924.38 L56.70,922.55 L58.05,920.91 L59.40,919.43 L60.76,918.10 L62.11,916.90 L63.46,915.81 L64.82,914.81 L66.17,913.90 L67.52,913.07 L68.88,912.29 L70.23,911.58 L71.58,910.91 L72.93,910.28 L74.29,909.69 L75.64,909.13 L76.99,908.60 L78.35,908.09 L79.70,907.61 L81.05,907.14 L82.41,906.69 L83.76,906.26 L85.11,905.83 L86.47,905.42 L87.82,905.01 L89.17,904.62 L90.53,904.23 L91.88,903.84 L93.23,903.46 L94.58,903.09 L95.94,902.72 L97.29,902.35 L98.64,901.99 L100.00,901.63 L101.35,901.27 L102.70,900.92 L104.06,900.56 L105.41,900.21 L106.76,899.86 L108.12,899.51 L109.47,899.16 L110.82,898.81 L112.18,898.46 L113.53,898.12 L114.88,897.77 L116.23,897.43 L117.59,897.08 L118.94,896.73 L120.29,896.39 L121.65,896.05 L123.00,895.70 L124.35,895.36 L125.71,895.01 L127.06,894.67 L128.41,894.33 L129.77,893.98 L131.12,893.64 L132.47,893.30 L133.82,892.96 L135.18,892.61 L136.53,892.27 L137.88,891.93 L139.24,891.58 L140.59,891.24 L141.94,890.90 L143.30,890.56 L144.65,890.21 L146.00,889.87 L147.36,889.53 L148.71,889.19 L150.06,888.84 L151.42,888.50 L152.77,888.16 L154.12,887.82 L155.47,887.47 L156.83,887.13 L158.18,886.79 L159.53,886.45 L160.89,886.10 L162.24,885.76 L163.59,885.42 L164.95,885.08 L166.30,884.74 L167.65,884.39 L169.01,884.05 L170.36,883.71 L171.71,883.37 L173.07,883.02 L174.42,882.68 L175.77,882.34 L177.12,882.00 L178.48,881.65 L179.83,881.31 L181.18,880.97 L182.54,880.63 L183.89,880.28 L185.24,879.94 L186.60,879.60 L187.95,879.26 L189.30,878.92 L190.66,878.57 L192.01,878.23 L193.36,877.89 L194.72,877.55 L196.07,877.20 L197.42,876.86 L198.78,876.52 L200.13,876.18 L201.48,875.83 L202.83,875.49 L204.19,875.15 L205.54,874.81 L206.89,874.47 L208.25,874.12 L209.60,873.78 L210.95,873.44 L212.31,873.10 L213.66,872.75 L215.01,872.41 L216.37,872.07 L217.72,871.73 L219.07,871.38 L220.43,871.04 L221.78,870.70 L223.13,870.36 L224.48,870.01 L225.84,869.67 L227.19,869.33 L228.54,868.99 L229.90,868.65 L231.25,868.30 L232.60,867.96 L233.96,867.62 L235.31,867.28 L236.66,866.93 L238.02,866.59 L239.37,866.25 L240.72,865.91 L242.08,865.56 L243.43,865.22 L244.78,864.88 L246.13,864.54 L247.49,864.19 L248.84,863.85 L250.19,863.51 L251.55,863.17 L252.90,862.83" fill="none" stroke="#000" stroke-width="2.0" stroke-linejoin="round"/>
<path d="M36.40,997.60 L37.75,989.35 L39.11,981.88 L40.46,975.12 L41.81,968.99 L43.17,963.43 L44.52,958.39 L45.87,953.81 L47.22,949.65 L48.58,945.87 L49.93,942.43 L51.28,939.29 L52.64,936.43 L53.99,933.82 L55.34,931.44 L56.70,929.25 L58.05,927.25 L59.40,925.41 L60.76,923.72 L62.11,922.17 L63.46,920.73 L64.82,919.40 L66.17,918.17 L67.52,917.03 L68.88,915.96 L70.23,914.97 L71.58,914.04 L72.93,913.17 L74.29,912.35 L75.64,911.58 L76.99,910.85 L78.35,910.16 L79.70,909.51 L81.05,908.88 L82.41,908.28 L83.76,907.71 L85.11,907.16 L86.47,906.63 L87.82,906.12 L89.17,905.63 L90.53,905.15 L91.88,904.69 L93.23,904.23 L94.58,903.79 L95.94,903.36 L97.29,902.93 L98.64,902.52 L100.00,902.11 L101.35,901.71 L102.70,901.31 L104.06,900.92 L105.41,900.54 L106.76,900.16 L108.12,899.78 L109.47,899.40 L110.82,899.03 L112.18,898.66 L113.53,898.30 L114.88,897.94 L116.23,897.57 L117.59,897.21 L118.94,896.86 L120.29,896.50 L121.65,896.15 L123.00,895.79 L124.35,895.44 L125.71,895.09 L127.06,894.74 L128.41,894.39 L129.77,894.04 L131.12,893.69 L132.47,893.34 L133.82,893.00 L135.18,892.65 L136.53,892.30 L137.88,891.96 L139.24,891.61 L140.59,891.27 L141.94,890.92 L143.30,890.58 L144.65,890.23 L146.00,889.89 L147.36,889.54 L148.71,889.20 L150.06,888.86 L151.42,888.51 L152.77,888.17 L154.12,887.83 L155.47,887.48 L156.83,887.14 L158.18,886.80 L159.53,886.45 L160.89,886.11 L162.24,885.77 L163.59,885.42 L164.95,885.08 L166.30,884.74 L167.65,884.40 L169.01,884.05 L170.36,883.71 L171.71,883.37 L173.07,883.03 L174.42,882.68 L175.77,882.34 L177.12,882.00 L178.48,881.66 L179.83,881.31 L181.18,880.97 L182.54,880.63 L183.89,880.29 L185.24,879.94 L186.60,879.60 L187.95,879.26 L189.30,878.92 L190.66,878.57 L192.01,878.23 L193.36,877.89 L194.72,877.55 L196.07,877.20 L197.42,876.86 L198.78,876.52 L200.13,876.18 L201.48,875.83 L202.83,875.49 L204.19,875.15 L205.54,874.81 L206.89,874.47 L208.25,874.12 L209.60,873.78 L210.95,873.44 L212.31,873.10 L213.66,872.75 L215.01,872.41 L216.37,872.07 L217.72,871.73 L219.07,871.38 L220.43,871.04 L221.78,870.70 L223.13,870.36 L224.48,870.01 L225.84,869.67 L227.19,869.33 L228.54,868.99 L229.90,868.65 L231.25,868.30 L232.60,867.96 L233.96,867.62 L235.31,867.28 L236.66,866.93 L238.02,866.59 L239.37,866.25 L240.72,865.91 L242.08,865.56 L243.43,865.22 L244.78,864.88 L246.13,864.54 L247.49,864.19 L248.84,863.85 L250.19,863.51 L251.55,863.17 L252.90,862.83" fill="none" stroke="#000" stroke-width="2.0" stroke-linejoin="round"/>
<path d="M36.40,997.60 L37.75,991.89 L39.11,986.55 L40.46,981.54 L41.81,976.84 L43.17,972.44 L44.52,968.30 L45.87,964.42 L47.22,960.78 L48.58,957.36 L49.93,954.15 L51.28,951.12 L52.64,948.28 L53.99,945.61 L55.34,943.09 L56.70,940.72 L58.05,938.48 L59.40,936.37 L60.76,934.38 L62.11,932.50 L63.46,930.72 L64.82,929.04 L66.17,927.45 L67.52,925.94 L68.88,924.51 L70.23,923.16 L71.58,921.87 L72.93,920.64 L74.29,919.48 L75.64,918.37 L76.99,917.31 L78.35,916.30 L79.70,915.33 L81.05,914.40 L82.41,913.52 L83.76,912.67 L85.11,911.86 L86.47,911.07 L87.82,910.32 L89.17,909.59 L90.53,908.89 L91.88,908.21 L93.23,907.56 L94.58,906.93 L95.94,906.31 L97.29,905.72 L98.64,905.14 L100.00,904.58 L101.35,904.03 L102.70,903.49 L104.06,902.97 L105.41,902.46 L106.76,901.97 L108.12,901.48 L109.47,901.00 L110.82,900.53 L112.18,900.07 L113.53,899.62 L114.88,899.17 L116.23,898.74 L117.59,898.30 L118.94,897.88 L120.29,897.46 L121.65,897.04 L123.00,896.63 L124.35,896.23 L125.71,895.83 L127.06,895.43 L128.41,895.04 L129.77,894.64 L131.12,894.26 L132.47,893.87 L133.82,893.49 L135.18,893.11 L136.53,892.74 L137.88,892.36 L139.24,891.99 L140.59,891.62 L141.94,891.25 L143.30,890.89 L144.65,890.52 L146.00,890.16 L147.36,889.80 L148.71,889.44 L150.06,889.08 L151.42,888.72 L152.77,888.36 L154.12,888.01 L155.47,887.65 L156.83,887.30 L158.18,886.94 L159.53,886.59 L160.89,886.24 L162.24,885.89 L163.59,885.54 L164.95,885.19 L166.30,884.84 L167.65,884.49 L169.01,884.14 L170.36,883.79 L171.71,883.44 L173.07,883.10 L174.42,882.75 L175.77,882.40 L177.12,882.06 L178.48,881.71 L179.83,881.36 L181.18,881.02 L182.54,880.67 L183.89,880.33 L185.24,879.98 L186.60,879.64 L187.95,879.29 L189.30,878.95 L190.66,878.60 L192.01,878.26 L193.36,877.91 L194.72,877.57 L196.07,877.23 L197.42,876.88 L198.78,876.54 L200.13,876.19 L201.48,875.85 L202.83,875.51 L204.19,875.16 L205.54,874.82 L206.89,874.48 L208.25,874.13 L209.60,873.79 L210.95,873.45 L212.31,873.11 L213.66,872.76 L215.01,872.42 L216.37,872.08 L217.72,871.73 L219.07,871.39 L220.43,871.05 L221.78,870.71 L223.13,870.36 L224.48,870.02 L225.84,869.68 L227.19,869.33 L228.54,868.99 L229.90,868.65 L231.25,868.31 L232.60,867.96 L233.96,867.62 L235.31,867.28 L236.66,866.94 L238.02,866.59 L239.37,866.25 L240.72,865.91 L242.08,865.57 L243.43,865.22 L244.78,864.88 L246.13,864.54 L247.49,864.20 L248.84,863.85 L250.19,863.51 L251.55,863.17 L252.90,862.83" fill="none" stroke="#000" stroke-width="2.0" stroke-linejoin="round"/>
<path d="M36.40,997.60 L37.75,994.44 L39.11,991.37 L40.46,988.41 L41.81,985.53 L43.17,982.75 L44.52,980.05 L45.87,977.43 L47.22,974.89 L48.58,972.44 L49.93,970.05 L51.28,967.74 L52.64,965.50 L53.99,963.32 L55.34,961.21 L56.70,959.16 L58.05,957.17 L59.40,955.24 L60.76,953.37 L62.11,951.55 L63.46,949.78 L64.82,948.06 L66.17,946.39 L67.52,944.77 L68.88,943.19 L70.23,941.66 L71.58,940.16 L72.93,938.71 L74.29,937.30 L75.64,935.92 L76.99,934.59 L78.35,933.28 L79.70,932.01 L81.05,930.78 L82.41,929.57 L83.76,928.40 L85.11,927.25 L86.47,926.13 L87.82,925.04 L89.17,923.98 L90.53,922.94 L91.88,921.93 L93.23,920.94 L94.58,919.97 L95.94,919.03 L97.29,918.10 L98.64,917.20 L100.00,916.32 L101.35,915.45 L102.70,914.61 L104.06,913.78 L105.41,912.97 L106.76,912.17 L108.12,911.39 L109.47,910.63 L110.82,909.88 L112.18,909.15 L113.53,908.43 L114.88,907.72 L116.23,907.03 L117.59,906.35 L118.94,905.68 L120.29,905.02 L121.65,904.37 L123.00,903.73 L124.35,903.11 L125.71,902.49 L127.06,901.89 L128.41,901.29 L129.77,900.70 L131.12,900.12 L132.47,899.55 L133.82,898.99 L135.18,898.43 L136.53,897.89 L137.88,897.34 L139.24,896.81 L140.59,896.28 L141.94,895.76 L143.30,895.25 L144.65,894.74 L146.00,894.24 L147.36,893.74 L148.71,893.25 L150.06,892.77 L151.42,892.29 L152.77,891.81 L154.12,891.34 L155.47,890.87 L156.83,890.41 L158.18,889.95 L159.53,889.50 L160.89,889.05 L162.24,888.60 L163.59,888.16 L164.95,887.72 L166.30,887.29 L167.65,886.85 L169.01,886.42 L170.36,886.00 L171.71,885.58 L173.07,885.16 L174.42,884.74 L175.77,884.32 L177.12,883.91 L178.48,883.50 L179.83,883.09 L181.18,882.69 L182.54,882.29 L183.89,881.88 L185.24,881.49 L186.60,881.09 L187.95,880.69 L189.30,880.30 L190.66,879.91 L192.01,879.52 L193.36,879.13 L194.72,878.75 L196.07,878.36 L197.42,877.98 L198.78,877.60 L200.13,877.22 L201.48,876.84 L202.83,876.46 L204.19,876.08 L205.54,875.71 L206.89,875.33 L208.25,874.96 L209.60,874.59 L210.95,874.22 L212.31,873.85 L213.66,873.48 L215.01,873.11 L216.37,872.74 L217.72,872.38 L219.07,872.01 L220.43,871.65 L221.78,871.28 L223.13,870.92 L224.48,870.56 L225.84,870.20 L227.19,869.84 L228.54,869.48 L229.90,869.12 L231.25,868.76 L232.60,868.40 L233.96,868.04 L235.31,867.68 L236.66,867.33 L238.02,866.97 L239.37,866.62 L240.72,866.26 L242.08,865.91 L243.43,865.55 L244.78,865.20 L246.13,864.84 L247.49,864.49 L248.84,864.14 L250.19,863.79 L251.55,863.43 L252.90,863.08" fill="none" stroke="#000" stroke-width="2.0" stroke-linejoin="round"/>
<rect x="311.25" y="846.40" width="215.00" height="150.10" fill="none" stroke="#000" stroke-width="1.75" stroke-linejoin="round"/>
<line x1="307.75" y1="846.40" x2="311.25" y2="846.40" stroke="#000" stroke-width="1.75"/>
<line x1="307.75" y1="883.92" x2="311.25" y2="883.92" stroke="#000" stroke-width="1.75"/>
<line x1="307.75" y1="921.45" x2="311.25" y2="921.45" stroke="#000" stroke-width="1.75"/>
<line x1="307.75" y1="958.98" x2="311.25" y2="958.98" stroke="#000" stroke-width="1.75"/>
<line x1="307.75" y1="996.50" x2="311.25" y2="996.50" stroke="#000" stroke-width="1.75"/>
<line x1="311.25" y1="996.50" x2="311.25" y2="1000.00" stroke="#000" stroke-width="1.75"/>
<line x1="354.25" y1="996.50" x2="354.25" y2="1000.00" stroke="#000" stroke-width="1.75"/>
<line x1="397.25" y1="996.50" x2="397.25" y2="1000.00" stroke="#000" stroke-width="1.75"/>
<line x1="440.25" y1="996.50" x2="440.25" y2="1000.00" stroke="#000" stroke-width="1.75"/>
<line x1="483.25" y1="996.50" x2="483.25" y2="1000.00" stroke="#000" stroke-width="1.75"/>
<line x1="526.25" y1="996.50" x2="526.25" y2="1000.00" stroke="#000" stroke-width="1.75"/>
<path d="M311.25,996.50 L312.59,990.11 L313.94,984.25 L315.28,978.85 L316.62,973.86 L317.97,969.24 L319.31,964.95 L320.66,960.95 L322.00,957.21 L323.34,953.71 L324.69,950.44 L326.03,947.35 L327.38,944.45 L328.72,941.71 L330.06,939.13 L331.41,936.68 L332.75,934.36 L334.09,932.16 L335.44,930.07 L336.78,928.08 L338.12,926.18 L339.47,924.37 L340.81,922.64 L342.16,920.99 L343.50,919.41 L344.84,917.90 L346.19,916.45 L347.53,915.06 L348.88,913.73 L350.22,912.44 L351.56,911.21 L352.91,910.02 L354.25,908.88 L355.59,907.78 L356.94,906.71 L358.28,905.69 L359.62,904.69 L360.97,903.74 L362.31,902.81 L363.66,901.92 L365.00,901.05 L366.34,900.21 L367.69,899.40 L369.03,898.61 L370.38,897.84 L371.72,897.10 L373.06,896.38 L374.41,895.68 L375.75,895.00 L377.09,894.34 L378.44,893.70 L379.78,893.08 L381.12,892.47 L382.47,891.88 L383.81,891.30 L385.16,890.74 L386.50,890.20 L387.84,889.66 L389.19,889.14 L390.53,888.64 L391.88,888.14 L393.22,887.66 L394.56,887.19 L395.91,886.73 L397.25,886.28 L398.59,885.84 L399.94,885.41 L401.28,884.99 L402.62,884.58 L403.97,884.18 L405.31,883.79 L406.66,883.40 L408.00,883.03 L409.34,882.66 L410.69,882.30 L412.03,881.95 L413.38,881.60 L414.72,881.26 L416.06,880.93 L417.41,880.60 L418.75,880.28 L420.09,879.97 L421.44,879.66 L422.78,879.36 L424.12,879.07 L425.47,878.78 L426.81,878.49 L428.16,878.21 L429.50,877.94 L430.84,877.67 L432.19,877.40 L433.53,877.14 L434.88,876.89 L436.22,876.64 L437.56,876.39 L438.91,876.15 L440.25,875.91 L441.59,875.68 L442.94,875.45 L444.28,875.22 L445.62,875.00 L446.97,874.78 L448.31,874.56 L449.66,874.35 L451.00,874.14 L452.34,873.93 L453.69,873.73 L455.03,873.53 L456.38,873.34 L457.72,873.14 L459.06,872.95 L460.41,872.77 L461.75,872.58 L463.09,872.40 L464.44,872.22 L465.78,872.04 L467.12,871.87 L468.47,871.70 L469.81,871.53 L471.16,871.36 L472.50,871.20 L473.84,871.03 L475.19,870.87 L476.53,870.72 L477.88,870.56 L479.22,870.41 L480.56,870.26 L481.91,870.11 L483.25,869.96 L484.59,869.81 L485.94,869.67 L487.28,869.53 L488.62,869.39 L489.97,869.25 L491.31,869.12 L492.66,868.98 L494.00,868.85 L495.34,868.72 L496.69,868.59 L498.03,868.46 L499.38,868.33 L500.72,868.21 L502.06,868.09 L503.41,867.96 L504.75,867.84 L506.09,867.72 L507.44,867.61 L508.78,867.49 L510.12,867.38 L511.47,867.26 L512.81,867.15 L514.16,867.04 L515.50,866.93 L516.84,866.82 L518.19,866.72 L519.53,866.61 L520.88,866.51 L522.22,866.40 L523.56,866.30 L524.91,866.20 L526.25,866.10" fill="none" stroke="#000" stroke-width="2.0" stroke-linejoin="round"/>
<rect x="584.10" y="846.45" width="214.90" height="151.15" fill="none" stroke="#000" stroke-width="1.75" stroke-linejoin="round"/>
<line x1="580.60" y1="846.45" x2="584.10" y2="846.45" stroke="#000" stroke-width="1.75"/>
<line x1="580.60" y1="884.24" x2="584.10" y2="884.24" stroke="#000" stroke-width="1.75"/>
<line x1="580.60" y1="922.03" x2="584.10" y2="922.03" stroke="#000" stroke-width="1.75"/>
<line x1="580.60" y1="959.81" x2="584.10" y2="959.81" stroke="#000" stroke-width="1.75"/>
<line x1="580.60" y1="997.60" x2="584.10" y2="997.60" stroke="#000" stroke-width="1.75"/>
<line x1="584.10" y1="997.60" x2="584.10" y2="1001.10" stroke="#000" stroke-width="1.75"/>
<line x1="627.08" y1="997.60" x2="627.08" y2="1001.10" stroke="#000" stroke-width="1.75"/>
<line x1="670.06" y1="997.60" x2="670.06" y2="1001.10" stroke="#000" stroke-width="1.75"/>
<line x1="713.04" y1="997.60" x2="713.04" y2="1001.10" stroke="#000" stroke-width="1.75"/>
<line x1="756.02" y1="997.60" x2="756.02" y2="1001.10" stroke="#000" stroke-width="1.75"/>
<line x1="799.00" y1="997.60" x2="799.00" y2="1001.10" stroke="#000" stroke-width="1.75"/>
<path d="M584.10,997.60 L585.44,981.77 L586.79,967.83 L588.13,955.54 L589.47,944.72 L590.82,935.18 L592.16,926.78 L593.50,919.38 L594.85,912.86 L596.19,907.12 L597.53,902.06 L598.87,897.60 L600.22,893.67 L601.56,890.21 L602.90,887.17 L604.25,884.48 L605.59,882.11 L606.93,880.03 L608.28,878.19 L609.62,876.58 L610.96,875.15 L612.31,873.89 L613.65,872.79 L614.99,871.81 L616.34,870.96 L617.68,870.20 L619.02,869.53 L620.36,868.95 L621.71,868.43 L623.05,867.97 L624.39,867.57 L625.74,867.22 L627.08,866.91 L628.42,866.63 L629.77,866.39 L631.11,866.18 L632.45,865.99 L633.80,865.82 L635.14,865.68 L636.48,865.55 L637.83,865.44 L639.17,865.34 L640.51,865.25 L641.85,865.17 L643.20,865.10 L644.54,865.04 L645.88,864.99 L647.23,864.94 L648.57,864.90 L649.91,864.87 L651.26,864.84 L652.60,864.81 L653.94,864.78 L655.29,864.76 L656.63,864.74 L657.97,864.73 L659.32,864.71 L660.66,864.70 L662.00,864.69 L663.34,864.68 L664.69,864.67 L666.03,864.66 L667.37,864.65 L668.72,864.65 L670.06,864.64 L671.40,864.64 L672.75,864.63 L674.09,864.63 L675.43,864.62 L676.78,864.62 L678.12,864.62 L679.46,864.62 L680.81,864.61 L682.15,864.61 L683.49,864.61 L684.83,864.61 L686.18,864.61 L687.52,864.61 L688.86,864.61 L690.21,864.61 L691.55,864.61 L692.89,864.60 L694.24,864.60 L695.58,864.60 L696.92,864.60 L698.27,864.60 L699.61,864.60 L700.95,864.60 L702.29,864.60 L703.64,864.60 L704.98,864.60 L706.32,864.60 L707.67,864.60 L709.01,864.60 L710.35,864.60 L711.70,864.60 L713.04,864.60 L714.38,864.60 L715.73,864.60 L717.07,864.60 L718.41,864.60 L719.76,864.60 L721.10,864.60 L722.44,864.60 L723.79,864.60 L725.13,864.60 L726.47,864.60 L727.81,864.60 L729.16,864.60 L730.50,864.60 L731.84,864.60 L733.19,864.60 L734.53,864.60 L735.87,864.60 L737.22,864.60 L738.56,864.60 L739.90,864.60 L741.25,864.60 L742.59,864.60 L743.93,864.60 L745.27,864.60 L746.62,864.60 L747.96,864.60 L749.30,864.60 L750.65,864.60 L751.99,864.60 L753.33,864.60 L754.68,864.60 L756.02,864.60 L757.36,864.60 L758.71,864.60 L760.05,864.60 L761.39,864.60 L762.74,864.60 L764.08,864.60 L765.42,864.60 L766.76,864.60 L768.11,864.60 L769.45,864.60 L770.79,864.60 L772.14,864.60 L773.48,864.60 L774.82,864.60 L776.17,864.60 L777.51,864.60 L778.85,864.60 L780.20,864.60 L781.54,864.60 L782.88,864.60 L784.23,864.60 L785.57,864.60 L786.91,864.60 L788.25,864.60 L789.60,864.60 L790.94,864.60 L792.28,864.60 L793.63,864.60 L794.97,864.60 L796.31,864.60 L797.66,864.60 L799.00,864.60" fill="none" stroke="#000" stroke-width="2.0" stroke-linejoin="round"/>
<path d="M584.10,997.60 L585.44,985.09 L586.79,973.76 L588.13,963.50 L589.47,954.20 L590.82,945.77 L592.16,938.14 L593.50,931.22 L594.85,924.96 L596.19,919.28 L597.53,914.14 L598.87,909.48 L600.22,905.26 L601.56,901.44 L602.90,897.97 L604.25,894.83 L605.59,891.99 L606.93,889.41 L608.28,887.08 L609.62,884.97 L610.96,883.05 L612.31,881.32 L613.65,879.74 L614.99,878.32 L616.34,877.03 L617.68,875.86 L619.02,874.80 L620.36,873.84 L621.71,872.97 L623.05,872.19 L624.39,871.47 L625.74,870.83 L627.08,870.24 L628.42,869.71 L629.77,869.23 L631.11,868.79 L632.45,868.40 L633.80,868.04 L635.14,867.72 L636.48,867.43 L637.83,867.16 L639.17,866.92 L640.51,866.70 L641.85,866.50 L643.20,866.32 L644.54,866.16 L645.88,866.02 L647.23,865.88 L648.57,865.76 L649.91,865.65 L651.26,865.55 L652.60,865.46 L653.94,865.38 L655.29,865.31 L656.63,865.24 L657.97,865.18 L659.32,865.13 L660.66,865.08 L662.00,865.03 L663.34,864.99 L664.69,864.96 L666.03,864.92 L667.37,864.89 L668.72,864.86 L670.06,864.84 L671.40,864.82 L672.75,864.80 L674.09,864.78 L675.43,864.76 L676.78,864.75 L678.12,864.73 L679.46,864.72 L680.81,864.71 L682.15,864.70 L683.49,864.69 L684.83,864.68 L686.18,864.67 L687.52,864.67 L688.86,864.66 L690.21,864.65 L691.55,864.65 L692.89,864.64 L694.24,864.64 L695.58,864.64 L696.92,864.63 L698.27,864.63 L699.61,864.63 L700.95,864.62 L702.29,864.62 L703.64,864.62 L704.98,864.62 L706.32,864.62 L707.67,864.62 L709.01,864.61 L710.35,864.61 L711.70,864.61 L713.04,864.61 L714.38,864.61 L715.73,864.61 L717.07,864.61 L718.41,864.61 L719.76,864.61 L721.10,864.61 L722.44,864.61 L723.79,864.60 L725.13,864.60 L726.47,864.60 L727.81,864.60 L729.16,864.60 L730.50,864.60 L731.84,864.60 L733.19,864.60 L734.53,864.60 L735.87,864.60 L737.22,864.60 L738.56,864.60 L739.90,864.60 L741.25,864.60 L742.59,864.60 L743.93,864.60 L745.27,864.60 L746.62,864.60 L747.96,864.60 L749.30,864.60 L750.65,864.60 L751.99,864.60 L753.33,864.60 L754.68,864.60 L756.02,864.60 L757.36,864.60 L758.71,864.60 L760.05,864.60 L761.39,864.60 L762.74,864.60 L764.08,864.60 L765.42,864.60 L766.76,864.60 L768.11,864.60 L769.45,864.60 L770.79,864.60 L772.14,864.60 L773.48,864.60 L774.82,864.60 L776.17,864.60 L777.51,864.60 L778.85,864.60 L780.20,864.60 L781.54,864.60 L782.88,864.60 L784.23,864.60 L785.57,864.60 L786.91,864.60 L788.25,864.60 L789.60,864.60 L790.94,864.60 L792.28,864.60 L793.63,864.60 L794.97,864.60 L796.31,864.60 L797.66,864.60 L799.00,864.60" fill="none" stroke="#000" stroke-width="2.0" stroke-linejoin="round"/>
<path d="M584.10,997.60 L585.44,989.36 L586.79,981.63 L588.13,974.38 L589.47,967.58 L590.82,961.20 L592.16,955.21 L593.50,949.60 L594.85,944.33 L596.19,939.39 L597.53,934.76 L598.87,930.41 L600.22,926.33 L601.56,922.51 L602.90,918.92 L604.25,915.56 L605.59,912.40 L606.93,909.44 L608.28,906.66 L609.62,904.05 L610.96,901.61 L612.31,899.32 L613.65,897.17 L614.99,895.15 L616.34,893.26 L617.68,891.48 L619.02,889.81 L620.36,888.25 L621.71,886.79 L623.05,885.41 L624.39,884.12 L625.74,882.91 L627.08,881.78 L628.42,880.71 L629.77,879.72 L631.11,878.78 L632.45,877.90 L633.80,877.08 L635.14,876.30 L636.48,875.58 L637.83,874.90 L639.17,874.26 L640.51,873.66 L641.85,873.10 L643.20,872.57 L644.54,872.08 L645.88,871.62 L647.23,871.18 L648.57,870.77 L649.91,870.39 L651.26,870.03 L652.60,869.70 L653.94,869.38 L655.29,869.08 L656.63,868.81 L657.97,868.55 L659.32,868.30 L660.66,868.07 L662.00,867.86 L663.34,867.66 L664.69,867.47 L666.03,867.29 L667.37,867.12 L668.72,866.97 L670.06,866.82 L671.40,866.68 L672.75,866.55 L674.09,866.43 L675.43,866.32 L676.78,866.21 L678.12,866.11 L679.46,866.02 L680.81,865.93 L682.15,865.85 L683.49,865.77 L684.83,865.70 L686.18,865.63 L687.52,865.57 L688.86,865.51 L690.21,865.45 L691.55,865.40 L692.89,865.35 L694.24,865.30 L695.58,865.26 L696.92,865.22 L698.27,865.18 L699.61,865.14 L700.95,865.11 L702.29,865.08 L703.64,865.05 L704.98,865.02 L706.32,864.99 L707.67,864.97 L709.01,864.95 L710.35,864.93 L711.70,864.91 L713.04,864.89 L714.38,864.87 L715.73,864.85 L717.07,864.84 L718.41,864.82 L719.76,864.81 L721.10,864.80 L722.44,864.78 L723.79,864.77 L725.13,864.76 L726.47,864.75 L727.81,864.74 L729.16,864.73 L730.50,864.72 L731.84,864.72 L733.19,864.71 L734.53,864.70 L735.87,864.70 L737.22,864.69 L738.56,864.69 L739.90,864.68 L741.25,864.67 L742.59,864.67 L743.93,864.67 L745.27,864.66 L746.62,864.66 L747.96,864.65 L749.30,864.65 L750.65,864.65 L751.99,864.64 L753.33,864.64 L754.68,864.64 L756.02,864.64 L757.36,864.63 L758.71,864.63 L760.05,864.63 L761.39,864.63 L762.74,864.63 L764.08,864.63 L765.42,864.62 L766.76,864.62 L768.11,864.62 L769.45,864.62 L770.79,864.62 L772.14,864.62 L773.48,864.62 L774.82,864.62 L776.17,864.61 L777.51,864.61 L778.85,864.61 L780.20,864.61 L781.54,864.61 L782.88,864.61 L784.23,864.61 L785.57,864.61 L786.91,864.61 L788.25,864.61 L789.60,864.61 L790.94,864.61 L792.28,864.61 L793.63,864.61 L794.97,864.61 L796.31,864.61 L797.66,864.61 L799.00,864.60" fill="none" stroke="#000" stroke-width="2.0" stroke-linejoin="round"/>
<path d="M584.10,997.60 L585.44,993.43 L586.79,989.40 L588.13,985.49 L589.47,981.70 L590.82,978.03 L592.16,974.48 L593.50,971.04 L594.85,967.70 L596.19,964.47 L597.53,961.34 L598.87,958.31 L600.22,955.38 L601.56,952.53 L602.90,949.78 L604.25,947.11 L605.59,944.53 L606.93,942.02 L608.28,939.60 L609.62,937.25 L610.96,934.97 L612.31,932.77 L613.65,930.63 L614.99,928.56 L616.34,926.56 L617.68,924.62 L619.02,922.74 L620.36,920.92 L621.71,919.15 L623.05,917.44 L624.39,915.79 L625.74,914.19 L627.08,912.63 L628.42,911.13 L629.77,909.67 L631.11,908.26 L632.45,906.89 L633.80,905.57 L635.14,904.28 L636.48,903.04 L637.83,901.83 L639.17,900.67 L640.51,899.54 L641.85,898.44 L643.20,897.38 L644.54,896.36 L645.88,895.36 L647.23,894.40 L648.57,893.46 L649.91,892.56 L651.26,891.68 L652.60,890.84 L653.94,890.01 L655.29,889.22 L656.63,888.45 L657.97,887.70 L659.32,886.98 L660.66,886.28 L662.00,885.60 L663.34,884.94 L664.69,884.30 L666.03,883.68 L667.37,883.09 L668.72,882.51 L670.06,881.95 L671.40,881.40 L672.75,880.88 L674.09,880.37 L675.43,879.87 L676.78,879.39 L678.12,878.93 L679.46,878.48 L680.81,878.05 L682.15,877.63 L683.49,877.22 L684.83,876.82 L686.18,876.44 L687.52,876.07 L688.86,875.71 L690.21,875.36 L691.55,875.02 L692.89,874.70 L694.24,874.38 L695.58,874.08 L696.92,873.78 L698.27,873.49 L699.61,873.21 L700.95,872.94 L702.29,872.68 L703.64,872.43 L704.98,872.18 L706.32,871.95 L707.67,871.72 L709.01,871.49 L710.35,871.28 L711.70,871.07 L713.04,870.86 L714.38,870.67 L715.73,870.48 L717.07,870.29 L718.41,870.12 L719.76,869.94 L721.10,869.78 L722.44,869.61 L723.79,869.46 L725.13,869.30 L726.47,869.16 L727.81,869.01 L729.16,868.88 L730.50,868.74 L731.84,868.61 L733.19,868.49 L734.53,868.36 L735.87,868.25 L737.22,868.13 L738.56,868.02 L739.90,867.91 L741.25,867.81 L742.59,867.71 L743.93,867.61 L745.27,867.52 L746.62,867.43 L747.96,867.34 L749.30,867.25 L750.65,867.17 L751.99,867.09 L753.33,867.01 L754.68,866.94 L756.02,866.86 L757.36,866.79 L758.71,866.72 L760.05,866.66 L761.39,866.59 L762.74,866.53 L764.08,866.47 L765.42,866.41 L766.76,866.35 L768.11,866.30 L769.45,866.25 L770.79,866.19 L772.14,866.14 L773.48,866.10 L774.82,866.05 L776.17,866.00 L777.51,865.96 L778.85,865.92 L780.20,865.88 L781.54,865.84 L782.88,865.80 L784.23,865.76 L785.57,865.72 L786.91,865.69 L788.25,865.65 L789.60,865.62 L790.94,865.59 L792.28,865.56 L793.63,865.53 L794.97,865.50 L796.31,865.47 L797.66,865.44 L799.00,865.42" fill="none" stroke="#000" stroke-width="2.0" stroke-linejoin="round"/>
<text transform="translate(291.7 952.6) rotate(-90)" font-size="16" font-weight="bold" fill="#000">k</text>
<text transform="translate(296.0 944.0) rotate(-90)" font-size="11" font-weight="bold" fill="#000">obs</text>
<text transform="translate(291.6 919.4) rotate(-90)" font-size="16" font-weight="bold" fill="#000">(s</text>
<text transform="translate(282.6 904.3) rotate(-90)" font-size="11" font-weight="bold" fill="#000">-1</text>
<text transform="translate(291.6 895.0) rotate(-90)" font-size="16" font-weight="bold" fill="#000">)</text>
<text class="big" x="0.45" y="23.10" font-size="31" font-weight="bold" textLength="21.10" lengthAdjust="spacingAndGlyphs" fill="#000">A</text>
<text class="big" x="260.20" y="23.10" font-size="31" font-weight="bold" textLength="19.85" lengthAdjust="spacingAndGlyphs" fill="#000">B</text>
<text class="big" x="0.95" y="481.00" font-size="32.5" font-weight="bold" textLength="18.10" lengthAdjust="spacingAndGlyphs" fill="#000">C</text>
<text class="ttl" x="60.40" y="29.10" font-size="17.5" font-weight="bold" textLength="156.20" lengthAdjust="spacing" fill="#000">Polymerase assay</text>
<text class="ttl" x="438.70" y="29.10" font-size="17.5" font-weight="bold" textLength="182.80" lengthAdjust="spacing" fill="#000">Steady state kinetics</text>
<text class="ttl" x="295.40" y="482.70" font-size="17.5" font-weight="bold" textLength="218.20" lengthAdjust="spacing" fill="#000">Pre-steady state kinetics</text>
<text class="r" x="712.95" y="70.50" font-size="14" textLength="54.05" lengthAdjust="spacing" fill="#1a1a1a">Product</text>
<text class="r" x="712.95" y="88.70" font-size="14" textLength="68.85" lengthAdjust="spacing" fill="#1a1a1a">Substrate</text>
<text class="r" x="445.40" y="116.90" font-size="14.4" textLength="112.40" lengthAdjust="spacing" fill="#1a1a1a">Increasing time</text>
<text class="r" x="229.10" y="259.90" font-size="16" textLength="7.10" lengthAdjust="spacingAndGlyphs" fill="#1a1a1a">x</text>
<text class="r" transform="translate(114.80 447.80) rotate(-90)" font-size="16.5" textLength="109.60" lengthAdjust="spacing" fill="#1a1a1a">No polymerase</text>
<text class="r" transform="translate(146.00 441.00) rotate(-90)" font-size="16.5" textLength="102.55" lengthAdjust="spacing" fill="#1a1a1a">Non-damaged</text>
<text class="r" transform="translate(178.25 405.80) rotate(-90)" font-size="16.5" textLength="70.35" lengthAdjust="spacing" fill="#1a1a1a">Damaged</text>
<text class="r ws" x="317.70" y="188.60" font-size="16" textLength="199.70" lengthAdjust="spacing" fill="#1a1a1a">(1) Determine initial rates</text>
<text class="r ws" x="589.95" y="188.10" font-size="16" textLength="112.10" lengthAdjust="spacing" fill="#1a1a1a">(2) Determine</text>
<text class="r" x="705.94" y="188.10" font-size="16" textLength="9.86" lengthAdjust="spacingAndGlyphs" fill="#1a1a1a">k</text>
<text class="r" x="714.94" y="191.90" font-size="11" textLength="15.61" lengthAdjust="spacingAndGlyphs" fill="#1a1a1a">cat</text>
<text class="r" x="733.45" y="188.10" font-size="16" textLength="29.85" lengthAdjust="spacingAndGlyphs" fill="#1a1a1a">and</text>
<text class="r" x="767.04" y="188.10" font-size="16" textLength="11.26" lengthAdjust="spacingAndGlyphs" fill="#1a1a1a">K</text>
<text class="r" x="778.09" y="191.90" font-size="11" textLength="9.96" lengthAdjust="spacingAndGlyphs" fill="#1a1a1a">m</text>
<text class="r ws" x="78.60" y="530.50" font-size="16" textLength="134.20" lengthAdjust="spacing" fill="#1a1a1a">(1) Burst kinetics</text>
<text class="r ws" x="317.20" y="531.00" font-size="16" textLength="202.60" lengthAdjust="spacing" fill="#1a1a1a">(2) Determine amplitudes</text>
<text class="r ws" x="628.20" y="531.50" font-size="16" textLength="113.10" lengthAdjust="spacing" fill="#1a1a1a">(3) Determine</text>
<text class="r" x="744.84" y="531.50" font-size="16" textLength="9.96" lengthAdjust="spacingAndGlyphs" fill="#1a1a1a">K</text>
<text class="r" x="754.84" y="535.20" font-size="11" textLength="6.91" lengthAdjust="spacingAndGlyphs" fill="#1a1a1a">d</text>
<text class="r ws" x="49.00" y="818.30" font-size="16" textLength="113.00" lengthAdjust="spacing" fill="#1a1a1a">(4) Determine</text>
<text class="r" x="165.04" y="818.30" font-size="16" textLength="9.26" lengthAdjust="spacingAndGlyphs" fill="#1a1a1a">k</text>
<text class="r" x="173.34" y="821.75" font-size="11" textLength="19.96" lengthAdjust="spacingAndGlyphs" fill="#1a1a1a">obs</text>
<text class="r" x="198.30" y="818.30" font-size="16" textLength="48.50" lengthAdjust="spacing" fill="#1a1a1a">values</text>
<text class="r ws" x="318.60" y="818.60" font-size="16" textLength="112.80" lengthAdjust="spacing" fill="#1a1a1a">(5) Determine</text>
<text class="r" x="434.64" y="818.60" font-size="16" textLength="9.91" lengthAdjust="spacingAndGlyphs" fill="#1a1a1a">k</text>
<text class="r" x="443.74" y="822.00" font-size="11" textLength="16.56" lengthAdjust="spacingAndGlyphs" fill="#1a1a1a">pol</text>
<text class="r" x="465.20" y="818.60" font-size="16" textLength="28.70" lengthAdjust="spacingAndGlyphs" fill="#1a1a1a">and</text>
<text class="r" x="494.64" y="818.60" font-size="16" textLength="12.41" lengthAdjust="spacingAndGlyphs" fill="#1a1a1a">K</text>
<text class="r" x="506.24" y="822.00" font-size="11" textLength="8.06" lengthAdjust="spacingAndGlyphs" fill="#1a1a1a">d</text>
<text class="r ws" x="580.80" y="818.40" font-size="16" textLength="213.40" lengthAdjust="spacing" fill="#1a1a1a">(6) Single-turnover kinetics</text>
<text x="377.80" y="398.40" font-size="16" font-weight="bold" textLength="82.50" lengthAdjust="spacing" fill="#000">Time (min)</text>
<text x="642.95" y="402.20" font-size="16" font-weight="bold" textLength="66.10" lengthAdjust="spacing" fill="#000">[dNTP] (</text>
<text x="718.90" y="402.20" font-size="16" font-weight="bold" textLength="19.60" lengthAdjust="spacing" fill="#000">M)</text>
<text x="114.60" y="734.20" font-size="16" font-weight="bold" textLength="62.70" lengthAdjust="spacing" fill="#000">Time (s)</text>
<text x="388.30" y="734.20" font-size="16" font-weight="bold" textLength="63.10" lengthAdjust="spacing" fill="#000">Time (s)</text>
<text x="646.90" y="735.50" font-size="16" font-weight="bold" textLength="87.10" lengthAdjust="spacing" fill="#000">[DNA] (nM)</text>
<text x="112.95" y="1023.50" font-size="16" font-weight="bold" textLength="63.60" lengthAdjust="spacing" fill="#000">Time (s)</text>
<text x="371.45" y="1024.00" font-size="16" font-weight="bold" textLength="64.60" lengthAdjust="spacing" fill="#000">[dNTP] (</text>
<text x="446.20" y="1024.00" font-size="16" font-weight="bold" textLength="18.35" lengthAdjust="spacing" fill="#000">M)</text>
<text x="660.90" y="1023.50" font-size="16" font-weight="bold" textLength="62.70" lengthAdjust="spacing" fill="#000">Time (s)</text>
<text transform="translate(296.40 354.20) rotate(-90)" font-size="16" font-weight="bold" textLength="114.00" lengthAdjust="spacing" fill="#000">[Product] (nM)</text>
<text transform="translate(567.00 375.30) rotate(-90)" font-size="16" font-weight="bold" textLength="152.10" lengthAdjust="spacing" fill="#000">Initial rate (nM/min)</text>
<text transform="translate(22.00 690.00) rotate(-90)" font-size="16" font-weight="bold" textLength="112.90" lengthAdjust="spacing" fill="#000">[Product] (nM)</text>
<text transform="translate(296.40 690.70) rotate(-90)" font-size="16" font-weight="bold" textLength="114.00" lengthAdjust="spacing" fill="#000">[Product] (nm)</text>
<text transform="translate(567.80 695.80) rotate(-90)" font-size="16" font-weight="bold" textLength="122.70" lengthAdjust="spacing" fill="#000">Amplitude (nM)</text>
<text transform="translate(21.40 979.30) rotate(-90)" font-size="16" font-weight="bold" textLength="114.00" lengthAdjust="spacing" fill="#000">[Product] (nM)</text>
<text transform="translate(569.40 979.30) rotate(-90)" font-size="16" font-weight="bold" textLength="114.00" lengthAdjust="spacing" fill="#000">[Product] (nM)</text>
</svg>
</body></html>
